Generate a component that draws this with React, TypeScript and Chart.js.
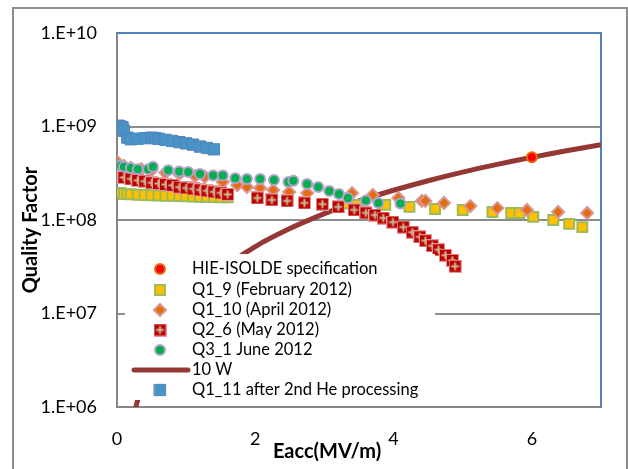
import React, { useEffect, useRef } from 'react';
import { Chart, registerables } from 'chart.js';
import { drawPoint } from 'chart.js/helpers';

Chart.register(...registerables);

// ---- tick labels ----
const xTicks = [0, 2, 4, 6];
const xTickLabels = ['0', '2', '4', '6'];
const yTicks = [1e6, 1e7, 1e8, 1e9, 1e10];
const yTickLabels = ['1.E+06', '1.E+07', '1.E+08', '1.E+09', '1.E+10'];

// ---- series ----
const hieX = [6];
const hieQ = [4.7e8];

const q19X = [0.05, 0.1, 0.15, 0.2, 0.3, 0.4, 0.5, 0.6, 0.7, 0.8, 0.9, 1.0, 1.1, 1.2, 1.3, 1.4, 1.5, 1.6,
  3.35, 3.47, 3.88, 4.23, 4.6, 5.0, 5.43, 5.7, 5.82, 6.02, 6.31, 6.54, 6.73];
const q19Q = [1.95e8, 1.9e8, 1.9e8, 1.88e8, 1.86e8, 1.85e8, 1.84e8, 1.83e8, 1.82e8, 1.81e8, 1.8e8, 1.79e8, 1.78e8, 1.77e8, 1.77e8, 1.76e8, 1.75e8, 1.75e8,
  1.5e8, 1.45e8, 1.45e8, 1.38e8, 1.31e8, 1.28e8, 1.22e8, 1.19e8, 1.19e8, 1.08e8, 1.0e8, 9.1e7, 8.4e7];

const q110X = [0.0, 0.1, 0.2, 0.35, 0.5, 0.7, 0.9, 1.13, 1.27, 1.53, 1.74, 1.88, 2.07, 2.26, 2.49, 2.75,
  3.4, 3.7, 4.07, 4.41, 4.46, 4.73, 5.11, 5.5, 5.93, 6.38, 6.8];
const q110Q = [4.2e8, 3.8e8, 3.6e8, 3.5e8, 3.4e8, 3.2e8, 3.1e8, 2.95e8, 2.9e8, 2.55e8, 2.37e8, 2.25e8, 2.2e8, 2.09e8, 1.99e8, 1.94e8,
  1.94e8, 1.85e8, 1.72e8, 1.6e8, 1.6e8, 1.52e8, 1.41e8, 1.34e8, 1.28e8, 1.22e8, 1.19e8];

const q26X = [0.02, 0.1, 0.2, 0.3, 0.4, 0.5, 0.6, 0.7, 0.8, 0.9, 1.0, 1.1, 1.2, 1.3, 1.4, 1.5, 1.6,
  2.03, 2.24, 2.46, 2.71, 2.97, 3.2, 3.43, 3.6, 3.73, 3.85, 3.99, 4.14, 4.27, 4.38, 4.46, 4.56, 4.65, 4.75, 4.85, 4.89];
const q26Q = [3.0e8, 2.85e8, 2.75e8, 2.65e8, 2.6e8, 2.5e8, 2.45e8, 2.4e8, 2.35e8, 2.25e8, 2.2e8, 2.15e8, 2.1e8, 2.05e8, 2.0e8, 1.95e8, 1.88e8,
  1.72e8, 1.64e8, 1.6e8, 1.52e8, 1.48e8, 1.38e8, 1.28e8, 1.19e8, 1.13e8, 1.05e8, 9.5e7, 8.4e7, 7.4e7, 6.6e7, 6.0e7, 5.3e7, 4.8e7, 4.2e7, 3.7e7, 3.2e7];

const q31X = [0.05, 0.1, 0.2, 0.3, 0.45, 0.52, 0.74, 0.9, 1.03, 1.2, 1.39, 1.53, 1.71, 1.88, 2.07, 2.27, 2.48, 2.55,
  2.75, 2.91, 3.07, 3.21, 3.34, 3.6, 3.78, 4.1];
const q31Q = [3.8e8, 3.7e8, 3.6e8, 3.5e8, 3.5e8, 3.7e8, 3.4e8, 3.3e8, 3.26e8, 3.1e8, 3.0e8, 3.0e8, 2.8e8, 2.75e8, 2.75e8, 2.68e8, 2.55e8, 2.63e8,
  2.43e8, 2.26e8, 2.04e8, 1.9e8, 1.72e8, 1.62e8, 1.52e8, 1.5e8];

const w10X = [0.25, 0.3, 0.4, 0.5, 0.75, 1, 1.5, 2, 2.5, 3, 3.5, 4, 4.5, 5, 5.5, 6, 6.5, 7];
const w10Q = [8.5e5, 1.2e6, 2.1e6, 3.3e6, 7.3e6, 1.3e7, 2.9e7, 5.2e7, 8.1e7, 1.17e8, 1.6e8, 2.08e8, 2.63e8, 3.25e8, 3.93e8, 4.68e8, 5.5e8, 6.37e8];

const q111X = [0.02, 0.05, 0.08, 0.1, 0.15, 0.2, 0.3, 0.4, 0.5, 0.55, 0.6, 0.7, 0.8, 0.9, 1.0, 1.1, 1.2, 1.3, 1.4];
const q111Q = [1.02e9, 1.0e9, 0.98e9, 0.9e9, 7.6e8, 7.3e8, 7.4e8, 7.5e8, 7.6e8, 7.5e8, 7.4e8, 7.2e8, 7.0e8, 6.8e8, 6.6e8, 6.4e8, 6.1e8, 5.9e8, 5.7e8];

const seriesLabels = [
  'HIE-ISOLDE specification',
  'Q1_9 (February 2012)',
  'Q1_10 (April 2012)',
  'Q2_6 (May 2012)',
  'Q3_1 June 2012',
  '10 W',
  'Q1_11 after 2nd He processing',
];

const FONT = 'Lato, "Liberation Sans", sans-serif';

function pts(xs: number[], ys: number[]) {
  return xs.map((x, i) => ({ x, y: ys[i] }));
}

function makePlusSquare(): HTMLCanvasElement {
  const c = document.createElement('canvas');
  c.width = 13;
  c.height = 13;
  const g = c.getContext('2d')!;
  g.fillStyle = '#E29A9A';
  g.fillRect(0, 0, 13, 13);
  g.fillStyle = '#C00000';
  g.fillRect(1, 1, 11, 11);
  g.strokeStyle = '#C4BD97';
  g.lineWidth = 2;
  g.beginPath();
  g.moveTo(6.5, 2.5);
  g.lineTo(6.5, 10.5);
  g.moveTo(2.5, 6.5);
  g.lineTo(10.5, 6.5);
  g.stroke();
  return c;
}

export default function App() {
  const ref = useRef<HTMLCanvasElement | null>(null);

  useEffect(() => {
    const canvas = ref.current;
    if (!canvas) return;
    const plus = makePlusSquare();

    const frame = {
      id: 'frame',
      beforeDraw(chart: any) {
        const ctx = chart.ctx;
        ctx.save();
        ctx.fillStyle = '#ffffff';
        ctx.fillRect(0, 0, chart.width, chart.height);
        ctx.strokeStyle = '#8C8C8C';
        ctx.lineWidth = 2;
        ctx.strokeRect(13, 8, 614, 480);
        ctx.restore();
      },
      beforeDatasetsDraw(chart: any) {
        const { ctx, chartArea: a } = chart;
        ctx.save();
        ctx.strokeStyle = '#4F81BD';
        ctx.lineWidth = 2;
        ctx.beginPath();
        ctx.moveTo(a.left, a.top);
        ctx.lineTo(a.right, a.top);
        ctx.lineTo(a.right, a.bottom);
        ctx.stroke();
        ctx.restore();
      },
      afterDatasetsDraw(chart: any) {
        const ctx = chart.ctx;
        ctx.save();
        // legend box
        ctx.fillStyle = '#ffffff';
        ctx.fillRect(125, 254, 310, 146);
        const rowY = [269, 290, 310, 330, 350, 370, 390];
        const mx = 160;
        const tx = 192;
        ctx.font = '16.5px ' + FONT;
        ctx.textBaseline = 'middle';
        ctx.textAlign = 'left';
        const ds = chart.data.datasets;
        const legendOrder = [0, 1, 2, 3, 4, 5, 6];
        legendOrder.forEach((di, row) => {
          const d: any = ds[di];
          const y = rowY[row];
          if (d.showLine) {
            ctx.strokeStyle = d.borderColor;
            ctx.lineWidth = 5;
            ctx.lineCap = 'round';
            ctx.beginPath();
            ctx.moveTo(134, y);
            ctx.lineTo(188, y);
            ctx.stroke();
          } else if (d.pointStyle instanceof HTMLCanvasElement) {
            ctx.drawImage(d.pointStyle, mx - d.pointStyle.width / 2, y - d.pointStyle.height / 2);
          } else {
            ctx.fillStyle = d.pointBackgroundColor;
            ctx.strokeStyle = d.pointBorderColor;
            ctx.lineWidth = d.pointBorderWidth;
            drawPoint(ctx, { pointStyle: d.pointStyle, radius: d.pointRadius, borderWidth: d.pointBorderWidth, rotation: 0 } as any, mx, y);
          }
          ctx.fillStyle = '#000000';
          ctx.fillText(d.label, tx, y);
        });
        ctx.restore();
      },
      afterDraw(chart: any) {
        const ctx = chart.ctx;
        ctx.save();
        ctx.fillStyle = '#000000';
        ctx.font = 'bold 20px ' + FONT;
        ctx.textAlign = 'center';
        ctx.textBaseline = 'middle';
        ctx.fillText('Eacc(MV/m)', 327, 452);
        ctx.translate(31, 230);
        ctx.rotate(-Math.PI / 2);
        ctx.fillText('Quality Factor', 0, 0);
        ctx.restore();
      },
    };

    const chart = new Chart(canvas, {
      type: 'scatter',
      data: {
        datasets: [
          {
            label: seriesLabels[0], data: pts(hieX, hieQ), order: 0,
            pointStyle: 'circle', pointRadius: 5, pointBackgroundColor: '#FF0000', pointBorderColor: '#E46C0A', pointBorderWidth: 2,
          },
          {
            label: seriesLabels[1], data: pts(q19X, q19Q), order: 6,
            pointStyle: 'rect', pointRadius: 7, pointBackgroundColor: '#FFC000', pointBorderColor: '#9BBB59', pointBorderWidth: 2,
          },
          {
            label: seriesLabels[2], data: pts(q110X, q110Q), order: 5,
            pointStyle: 'rectRot', pointRadius: 6, pointBackgroundColor: '#E46C0A', pointBorderColor: '#D99694', pointBorderWidth: 2,
          },
          {
            label: seriesLabels[3], data: pts(q26X, q26Q), order: 4,
            pointStyle: plus, pointRadius: 6, pointBackgroundColor: '#C00000', pointBorderColor: '#C00000', pointBorderWidth: 0,
          },
          {
            label: seriesLabels[4], data: pts(q31X, q31Q), order: 3,
            pointStyle: 'circle', pointRadius: 5, pointBackgroundColor: '#00B050', pointBorderColor: '#B3A2C7', pointBorderWidth: 2,
          },
          {
            label: seriesLabels[5], data: pts(w10X, w10Q), order: 10, showLine: true,
            borderColor: '#953735', borderWidth: 5, pointRadius: 0, tension: 0.35, backgroundColor: '#953735',
          },
          {
            label: seriesLabels[6], data: pts(q111X, q111Q), order: 1,
            pointStyle: 'rect', pointRadius: 8, pointBackgroundColor: '#4A93C6', pointBorderColor: '#4F86BC', pointBorderWidth: 1,
          },
        ] as any,
      },
      options: {
        animation: false,
        responsive: false,
        events: [],
        layout: { padding: { left: 0, right: 27, top: 33, bottom: 0 } },
        plugins: { legend: { display: false }, tooltip: { enabled: false } },
        scales: {
          x: {
            type: 'linear', min: 0, max: 7,
            afterFit: (s: any) => { s.height = 62; },
            afterBuildTicks: (s: any) => { s.ticks = xTicks.map((v) => ({ value: v })); },
            grid: { display: false, drawTicks: false },
            border: { display: true, color: '#868686', width: 2 },
            ticks: {
              padding: 21, color: '#000000', font: { family: FONT, size: 18 },
              maxRotation: 0,
              callback: (v: any) => { const i = xTicks.indexOf(Number(v)); return i >= 0 ? xTickLabels[i] : ''; },
            },
          },
          y: {
            type: 'logarithmic', min: 1e6, max: 1e10,
            afterFit: (s: any) => { s.width = 117; },
            afterBuildTicks: (s: any) => { s.ticks = yTicks.map((v) => ({ value: v })); },
            grid: {
              drawTicks: false, lineWidth: 2,
              color: (c: any) => { const v = c.tick && c.tick.value; return v > 1e6 && v < 1e10 ? '#8C8C8C' : 'rgba(0,0,0,0)'; },
            },
            border: { display: true, color: '#868686', width: 2 },
            ticks: {
              padding: 20, color: '#000000', font: { family: FONT, size: 18 },
              callback: (v: any) => { const i = yTicks.indexOf(Number(v)); return i >= 0 ? yTickLabels[i] : ''; },
            },
          },
        },
      },
      plugins: [frame],
    } as any);

    return () => chart.destroy();
  }, []);

  return (
    <div style={{ position: 'fixed', left: 0, top: 0, width: 628, height: 469, background: '#fff' }}>
      <canvas ref={ref} width={628} height={469} style={{ display: 'block', width: 628, height: 469 }} />
    </div>
  );
}
